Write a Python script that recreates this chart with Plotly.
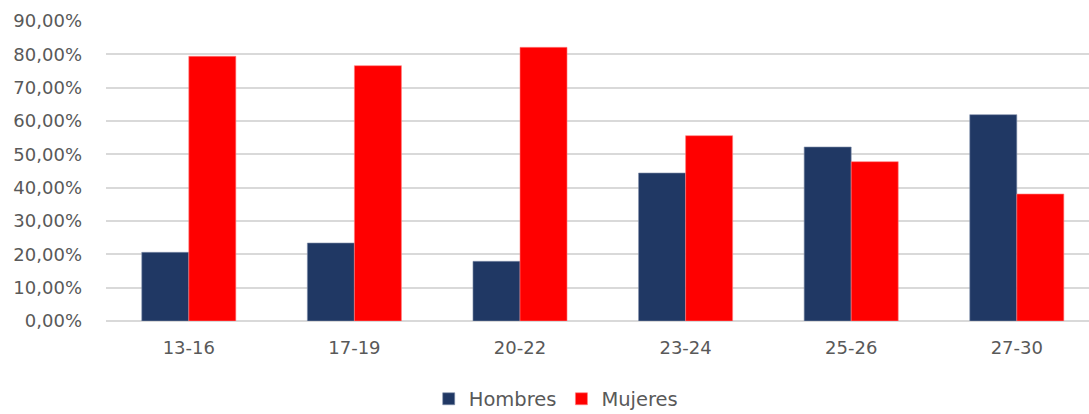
import plotly.graph_objects as go

categories = ["13-16", "17-19", "20-22", "23-24", "25-26", "27-30"]
hombres = [0.206, 0.234, 0.179, 0.444, 0.522, 0.619]
mujeres = [0.794, 0.766, 0.821, 0.556, 0.478, 0.381]

fig = go.Figure()
fig.add_trace(go.Bar(name="Hombres", x=categories, y=hombres, marker_color="#203864",
                     marker_line=dict(color="#7f8fa9", width=0.6)))
fig.add_trace(go.Bar(name="Mujeres", x=categories, y=mujeres, marker_color="#FF0000",
                     marker_line=dict(color="#ff8080", width=0.6)))

fig.update_layout(
    width=1089, height=414,
    margin=dict(l=106, r=0, t=21, b=93, autoexpand=False),
    paper_bgcolor="white", plot_bgcolor="white",
    barmode="group", bargap=0.432, bargroupgap=0,
    separators=",.",
    font=dict(family="DejaVu Sans, sans-serif", size=18, color="#595959"),
    legend=dict(orientation="h", x=0.458, xanchor="center", yref="container", y=0.036, yanchor="middle",
                font=dict(size=19.5, color="#595959"), traceorder="normal", itemwidth=30),
    xaxis=dict(range=[-0.5, 5.436], showgrid=False, showline=False, ticks="", ticklabelstandoff=14,
               tickfont=dict(size=18, color="#595959")),
    yaxis=dict(range=[0, 0.9], dtick=0.1, tickformat=".2%", showgrid=True,
               gridcolor="#d9d9d9", gridwidth=1.5, zeroline=True, zerolinecolor="#d9d9d9",
               zerolinewidth=1.5, ticks="", ticklabelstandoff=23,
               tickfont=dict(size=18, color="#595959")),
)

fig.write_html("out.html", post_script="document.body.style.margin='0';",
               config={"displayModeBar": False})
